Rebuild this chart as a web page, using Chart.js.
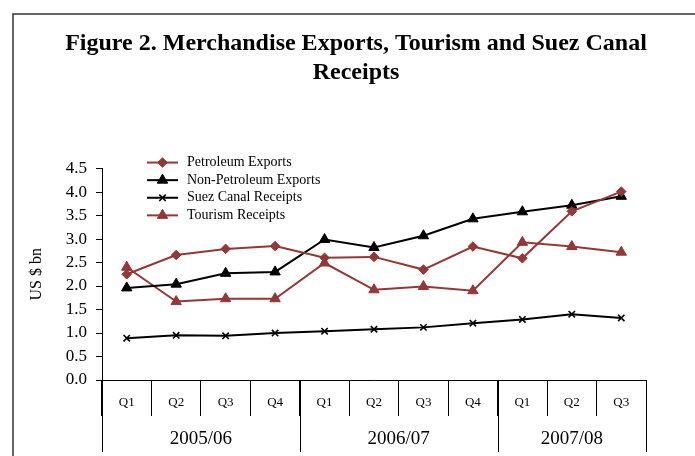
<!DOCTYPE html>
<html>
<head>
<meta charset="utf-8">
<script src="https://cdn.jsdelivr.net/npm/chart.js@4.4.1/dist/chart.umd.min.js"></script>
<style>
  html, body { margin: 0; padding: 0; background: #fff; }
  canvas { display: block; }
</style>
</head>
<body>
<canvas id="c" width="695" height="456"></canvas>
<script>
// ---- data ----
const categories = ['Q1','Q2','Q3','Q4','Q1','Q2','Q3','Q4','Q1','Q2','Q3'];
const years = ['2005/06','2006/07','2007/08'];
const yearSpans = [4, 4, 3];
const petroleumExports    = [2.25, 2.66, 2.79, 2.85, 2.60, 2.62, 2.35, 2.84, 2.59, 3.59, 4.01];
const nonPetroleumExports = [1.96, 2.04, 2.27, 2.30, 2.99, 2.82, 3.07, 3.43, 3.58, 3.72, 3.91];
const suezCanalReceipts   = [0.89, 0.95, 0.94, 1.00, 1.04, 1.08, 1.12, 1.21, 1.29, 1.40, 1.32];
const tourismReceipts     = [2.40, 1.67, 1.73, 1.73, 2.49, 1.92, 1.99, 1.90, 2.93, 2.84, 2.72];
const yMin = 0, yMax = 4.5, yStep = 0.5;
const titleLines = ['Figure 2. Merchandise Exports, Tourism and Suez Canal', 'Receipts'];
const yTitle = 'US $ bn';

const SERIF = '"Liberation Serif", "Times New Roman", serif';
const BROWN = '#953735';
const BLACK = '#000000';

function series(label, data, color, style, radius) {
  return {
    label, data,
    borderColor: color, backgroundColor: color,
    pointBackgroundColor: color, pointBorderColor: color,
    pointStyle: style, pointRadius: radius, pointHoverRadius: radius,
    pointBorderWidth: style === 'crossRot' ? 1.6 : 1,
    borderWidth: 2, tension: 0, fill: false
  };
}

const datasets = [
  series('Petroleum Exports', petroleumExports, BROWN, 'rectRot', 4.8),
  series('Non-Petroleum Exports', nonPetroleumExports, BLACK, 'triangle', 6),
  series('Suez Canal Receipts', suezCanalReceipts, BLACK, 'crossRot', 4.5),
  series('Tourism Receipts', tourismReceipts, BROWN, 'triangle', 6)
];

const bgFrame = {
  id: 'bgFrame',
  beforeDraw(chart) {
    const ctx = chart.ctx;
    ctx.save();
    ctx.fillStyle = '#fff';
    ctx.fillRect(0, 0, chart.width, chart.height);
    ctx.strokeStyle = '#333';
    ctx.lineWidth = 1.5;
    ctx.strokeRect(13, 14, chart.width + 20, chart.height + 20);
    ctx.restore();
  }
};

const yearGroups = {
  id: 'yearGroups',
  afterDraw(chart) {
    const xs = chart.scales.x;
    const ctx = chart.ctx;
    const top = xs.top;
    ctx.save();
    ctx.strokeStyle = '#000';
    ctx.lineWidth = 1;
    let start = 0;
    const bounds = [0];
    yearSpans.forEach(s => { start += s; bounds.push(start); });
    bounds.forEach(b => {
      const px = Math.round(xs.getPixelForValue(b - 0.5)) + 0.5;
      ctx.beginPath();
      ctx.moveTo(px, top);
      ctx.lineTo(px, top + 72);
      ctx.stroke();
    });
    ctx.fillStyle = '#000';
    ctx.font = '19px ' + SERIF;
    ctx.textAlign = 'center';
    ctx.textBaseline = 'middle';
    years.forEach((y, i) => {
      const a = xs.getPixelForValue(bounds[i] - 0.5);
      const b = xs.getPixelForValue(bounds[i + 1] - 0.5);
      ctx.fillText(y, (a + b) / 2, top + 59);
    });
    ctx.restore();
  }
};

const insideLegend = {
  id: 'insideLegend',
  afterDraw(chart) {
    const ctx = chart.ctx;
    const area = chart.chartArea;
    const x0 = area.left + 45, lineLen = 31, textX = area.left + 85;
    let y = area.top - 6;
    ctx.save();
    chart.data.datasets.forEach(ds => {
      ctx.strokeStyle = ds.borderColor;
      ctx.lineWidth = 2;
      ctx.beginPath();
      ctx.moveTo(x0, y);
      ctx.lineTo(x0 + lineLen, y);
      ctx.stroke();
      ctx.fillStyle = ds.pointBackgroundColor;
      ctx.strokeStyle = ds.pointBorderColor;
      ctx.lineWidth = ds.pointBorderWidth;
      Chart.helpers.drawPoint(ctx, {pointStyle: ds.pointStyle, radius: ds.pointRadius, rotation: 0, borderWidth: ds.pointBorderWidth}, x0 + lineLen / 2, y);
      ctx.fillStyle = '#000';
      ctx.font = '14px ' + SERIF;
      ctx.textAlign = 'left';
      ctx.textBaseline = 'middle';
      ctx.fillText(ds.label, textX, y);
      y += 17.6;
    });
    ctx.restore();
  }
};

new Chart(document.getElementById('c'), {
  type: 'line',
  data: { labels: categories, datasets },
  plugins: [bgFrame, yearGroups, insideLegend],
  options: {
    responsive: false,
    animation: false,
    devicePixelRatio: 1,
    layout: { padding: { left: 17, right: 0, top: 0, bottom: 0 } },
    plugins: {
      legend: { display: false },
      tooltip: { enabled: false },
      title: {
        display: true,
        text: titleLines,
        color: '#000',
        font: { family: SERIF, size: 24, weight: 'bold', lineHeight: 1.22 },
        padding: { top: 29, bottom: 81 }
      }
    },
    scales: {
      x: {
        type: 'category',
        offset: true,
        grid: { offset: true, drawOnChartArea: false, drawTicks: true, tickLength: 36, color: '#000', lineWidth: 1 },
        border: { display: true, color: '#000', width: 1 },
        ticks: { color: '#000', font: { family: SERIF, size: 13 }, padding: -21, maxRotation: 0, autoSkip: false },
        afterFit(s) { s.height = 76; }
      },
      y: {
        min: yMin, max: yMax,
        grid: { drawOnChartArea: false, drawTicks: true, tickLength: 6, color: '#000', lineWidth: 1 },
        border: { display: true, color: '#000', width: 1 },
        ticks: { stepSize: yStep, color: '#000', font: { family: SERIF, size: 17 }, padding: 9, callback: v => Number(v).toFixed(1) },
        title: { display: true, text: yTitle, color: '#000', font: { family: SERIF, size: 16 }, padding: { top: 10, bottom: 0 } },
        afterFit(s) { s.width = 85; }
      },
      yR: {
        position: 'right',
        display: true,
        grid: { display: false, drawTicks: false },
        border: { display: false },
        ticks: { display: false },
        afterFit(s) { s.width = 49; }
      }
    }
  }
});
</script>
</body>
</html>
